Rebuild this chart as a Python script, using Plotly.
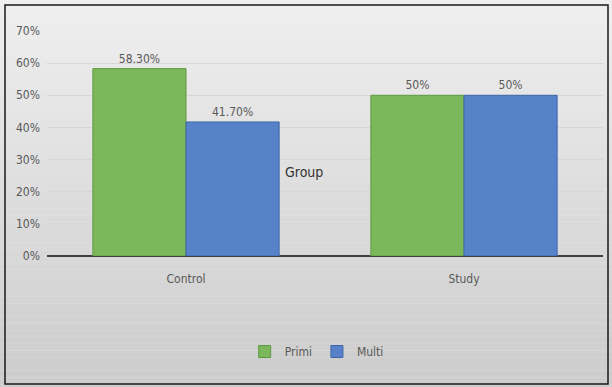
import plotly.graph_objects as go

# Chart data
groups = ["Control", "Study"]
primi = [0.583, 0.50]
multi = [0.417, 0.50]
primi_labels = ["58.30%", "50%"]
multi_labels = ["41.70%", "50%"]
y_ticks = [0, 0.1, 0.2, 0.3, 0.4, 0.5, 0.6, 0.7]
y_tick_text = ["0%", "10%", "20%", "30%", "40%", "50%", "60%", "70%"]

FONT = "DejaVu Sans Condensed, Liberation Sans Narrow, sans-serif"
TEXT_GREY = "#595959"

fig = go.Figure()
fig.add_trace(go.Bar(
    name="Primi", x=groups, y=primi, text=primi_labels,
    textposition="outside", cliponaxis=False,
    textfont=dict(family=FONT, size=12, color=TEXT_GREY),
    marker=dict(color="#7db75c", line=dict(color="#5e9a43", width=1)),
))
fig.add_trace(go.Bar(
    name="Multi", x=groups, y=multi, text=multi_labels,
    textposition="outside", cliponaxis=False,
    textfont=dict(family=FONT, size=12, color=TEXT_GREY),
    marker=dict(color="#5782c9", line=dict(color="#3f67a8", width=1)),
))

# Vertical grey gradient behind the whole figure
shapes = []
n = 60
top = (240, 240, 240)
bot = (204, 204, 204)
for i in range(n):
    t = i / (n - 1)
    c = tuple(round(top[k] + (bot[k] - top[k]) * t) for k in range(3))
    shapes.append(dict(
        type="rect", xref="paper", yref="paper", layer="below",
        x0=-0.2, x1=1.1, y0=1.2 - (i + 1) * 1.8 / n,
        y1=1.2 - i * 1.8 / n,
        line=dict(width=0), fillcolor="rgb(%d,%d,%d)" % c,
    ))

fig.update_layout(
    width=612, height=387,
    margin=dict(l=47, r=9, t=31, b=131),
    paper_bgcolor="#e8e8e8",
    plot_bgcolor="rgba(0,0,0,0)",
    barmode="group",
    bargap=0.33,
    bargroupgap=0,
    font=dict(family=FONT, size=12, color=TEXT_GREY),
    shapes=shapes,
    showlegend=True,
    legend=dict(
        orientation="h", x=0.485, xanchor="center", y=-0.36, yanchor="top",
        bgcolor="rgba(0,0,0,0)", font=dict(family=FONT, size=12, color=TEXT_GREY),
        itemwidth=30, traceorder="normal",
    ),
    xaxis=dict(
        showgrid=False, showline=False, zeroline=False,
        ticks="", ticklabelstandoff=14,
        tickfont=dict(family=FONT, size=12, color=TEXT_GREY),
    ),
    yaxis=dict(
        range=[0, 0.7], tickvals=y_ticks, ticktext=y_tick_text,
        showgrid=True, gridcolor="#d6d6d6", gridwidth=1,
        zeroline=True, zerolinecolor="#404040", zerolinewidth=2,
        showline=False, ticks="", ticklabelstandoff=6,
        tickfont=dict(family=FONT, size=12, color=TEXT_GREY),
    ),
)

# Axis title placed inside the plotting area
fig.add_annotation(
    text="Group", xref="paper", yref="paper", x=0.424, y=0.372,
    xanchor="left", yanchor="middle", showarrow=False,
    font=dict(family=FONT, size=14, color="#333333"),
)

# Outer frame
fig.add_shape(
    type="rect", xref="paper", yref="paper",
    x0=-42 / 556, x1=1 + 5 / 556, y0=-128 / 225, y1=1 + 26 / 225,
    line=dict(color="#1a1a1a", width=1.5), fillcolor="rgba(0,0,0,0)",
    layer="above",
)

fig.write_html("out.html")
